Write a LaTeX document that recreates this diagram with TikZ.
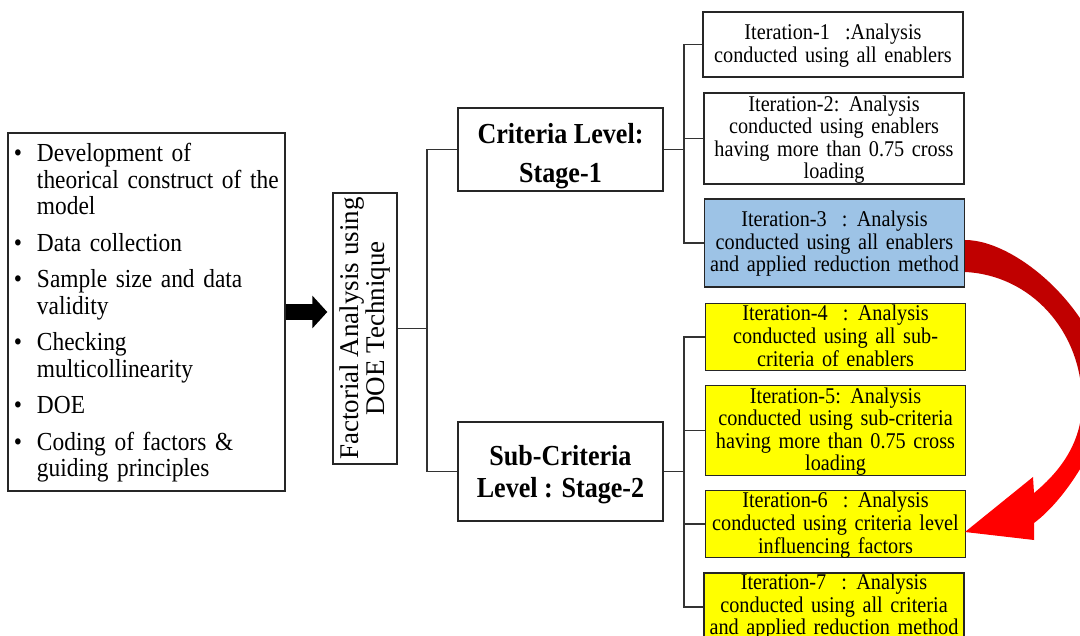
\documentclass[tikz,border=0pt]{standalone}
\usepackage{fontspec}
\setmainfont{Liberation Serif}[FakeStretch=0.9]
\newfontfamily\uprightserif{Liberation Serif}
\usetikzlibrary{arrows.meta}

\definecolor{iterblue}{HTML}{9DC3E6}
\definecolor{iteryellow}{HTML}{FFFF00}
\definecolor{darkred}{HTML}{C00000}

% bright red below, dark red above (inner 25bp--75bp fits the path)
\pgfdeclareverticalshading{bendshade}{100bp}{%
  color(0bp)=(red); color(25bp)=(red); color(40bp)=(red);
  color(47bp)=(darkred); color(75bp)=(darkred); color(100bp)=(darkred)}

\newenvironment{prepsteps}{%
  \begin{list}{\textbullet}{%
    \setlength{\leftmargin}{25.5pt}%
    \setlength{\labelwidth}{10pt}%
    \setlength{\labelsep}{15pt}%
    \setlength{\itemsep}{10.2pt}%
    \setlength{\parsep}{0pt}%
    \setlength{\topsep}{0pt}%
    \setlength{\partopsep}{0pt}}\raggedright}%
  {\end{list}}
\newcommand{\nl}{\hfill\break}
\newcommand{\widespaces}{\spaceskip=1.5\fontdimen2\font\relax}

% text drawn lower than the box centre
\newcommand{\lowertext}[2]{\raisebox{-#1}[\height][\depth]{\begin{tabular}{@{}c@{}}#2\end{tabular}}}

\begin{document}
\begin{tikzpicture}[
  x=1pt,
  y=-1pt,
  box/.style={
    draw=black!85,
    line width=1.4pt,
    inner sep=0pt,
    align=center
  },
  prepbox/.style={
    box,
    minimum width=277pt,
    minimum height=358pt,
    text width=270pt,
    align=left,
    font=\fontsize{26}{26.4}\selectfont
  },
  doebox/.style={
    box,
    rotate=90,
    minimum width=271pt,
    minimum height=64pt,
    font=\uprightserif\fontsize{27}{26}\selectfont
  },
  stagebox/.style={box, minimum width=205pt, font=\bfseries\fontsize{29}{39}\selectfont},
  iterbox/.style={box, minimum width=260pt, font=\fontsize{22.5}{22.5}\selectfont\widespaces},
  link/.style={draw=black!80, line width=1.2pt},
  blockarrow/.style={line width=16pt, -{Triangle[length=15pt,width=32pt]}, shorten >=5pt}
]
\useasboundingbox (0,0) rectangle (1080,636);
\clip (0,0) rectangle (1080,636);

% ---------------------------------------------------------------------------
% Preparation steps and DOE
% ---------------------------------------------------------------------------
\node[prepbox] (prep) at (146.5,312) {\vspace*{-6pt}\begin{prepsteps}
  \item Development of\nl theorical construct of the\nl model
  \item Data collection
  \item Sample size and data\nl validity
  \item Checking\nl multicollinearity
  \item DOE
  \item Coding of factors \&\nl guiding principles
\end{prepsteps}};

\node[doebox] (doe) at (365,328.5) {Factorial Analysis using\\DOE Technique};

\draw[blockarrow] (prep.east) -- (prep.east -| doe.north);

% ---------------------------------------------------------------------------
% Stages
% ---------------------------------------------------------------------------
\node[stagebox, minimum height=83pt] (stage1) at (560.5,149.5)
  {\lowertext{6pt}{Criteria Level:\\Stage-1}};
\node[stagebox, minimum height=99pt, font=\bfseries\fontsize{29}{32}\selectfont] (stage2) at (560.5,471.5)
  {\lowertext{4pt}{Sub-Criteria\\Level : Stage-2}};

\coordinate (trunk) at (427,328.5);
\draw[link] (doe.south) -- (trunk);
\draw[link] (stage1.west) -| (trunk) |- (stage2.west);

% ---------------------------------------------------------------------------
% Iterations
% ---------------------------------------------------------------------------
\node[iterbox, minimum height=65pt] (it1) at (833,44.5)
  {\lowertext{2pt}{Iteration-1 \ :Analysis\\conducted using all enablers}};
\node[iterbox, minimum height=91pt] (it2) at (834,138.5)
  {\lowertext{2pt}{Iteration-2: Analysis\\conducted using enablers\\having more than 0.75 cross\\loading}};
\node[iterbox, minimum height=88pt, fill=iterblue] (it3) at (834.5,243)
  {\lowertext{2pt}{Iteration-3 \ : Analysis\\conducted using all enablers\\and applied reduction method}};
\node[iterbox, minimum height=66pt, fill=iteryellow] (it4) at (835.5,337)
  {\lowertext{2pt}{Iteration-4 \ : Analysis\\conducted using all sub-\\criteria of enablers}};
\node[iterbox, minimum height=89pt, fill=iteryellow] (it5) at (835.5,430.5)
  {\lowertext{2pt}{Iteration-5: Analysis\\conducted using sub-criteria\\having more than 0.75 cross\\loading}};
\node[iterbox, minimum height=66pt, fill=iteryellow] (it6) at (835.5,524)
  {\lowertext{2pt}{Iteration-6 \ : Analysis\\conducted using criteria level\\influencing factors}};
\node[iterbox, minimum height=68pt, fill=iteryellow] (it7) at (834,607)
  {Iteration-7 \ : Analysis\\conducted using all criteria\\and applied reduction method};

\coordinate (crit) at (684,149.5);
\draw[link] (stage1.east) -- (crit);
\draw[link] (it1.west) -| (crit) |- (it3.west);
\draw[link] (crit |- it2.west) -- (it2.west);

\coordinate (sub) at (684,471.5);
\draw[link] (stage2.east) -- (sub);
\draw[link] (it4.west) -| (sub) |- (it7.west);
\draw[link] (sub |- it5.west) -- (it5.west);
\draw[link] (sub |- it6.west) -- (it6.west);

% red bent arrow from iteration 3 to iteration 6
\shade[shading=bendshade]
  (965,240) .. controls (1020,240) and (1108,320) .. (1108,400)
  .. controls (1100,445) and (1065,500) .. (1034,523)
  -- (1034,540) -- (965,532) -- (1033,477) -- (1034,493)
  .. controls (1062,470) and (1083,440) .. (1082,400)
  .. controls (1081,330) and (1030,275) .. (965,272) -- cycle;
\end{tikzpicture}
\end{document}
